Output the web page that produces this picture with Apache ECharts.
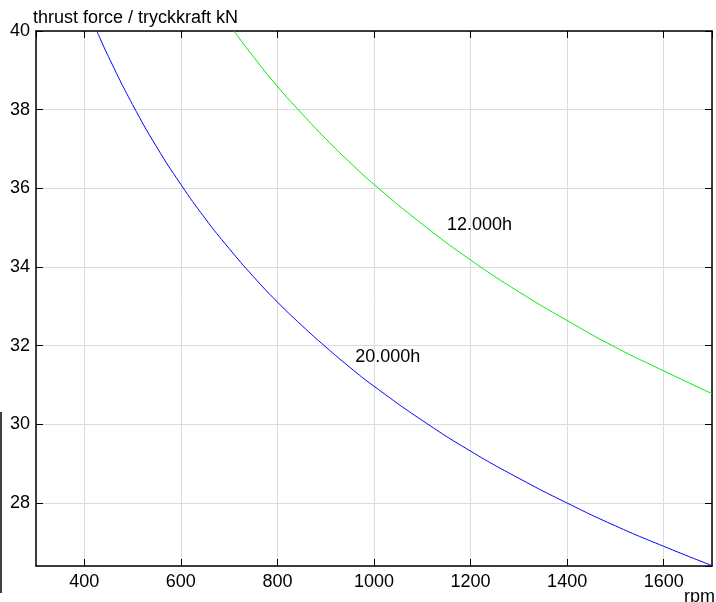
<!DOCTYPE html>
<html>
<head>
<meta charset="utf-8">
<script src="https://cdn.jsdelivr.net/npm/echarts@6/dist/echarts.min.js"></script>
<style>
  html, body { margin: 0; padding: 0; background: #fff; }
  #chart { width: 716px; height: 602px; }
</style>
</head>
<body>
<div id="chart"></div>
<script>
// values
var rpm20000h = [426, 450, 500, 550, 600, 650, 700, 750, 800, 850, 900, 950, 1000, 1100, 1200, 1300, 1400, 1500, 1600, 1700];
var force20000h = [40.0, 39.35, 38.13, 37.05, 36.10, 35.24, 34.47, 33.76, 33.11, 32.52, 31.97, 31.45, 30.97, 30.10, 29.32, 28.63, 28.00, 27.42, 26.90, 26.41];
var rpm12000h = [710, 750, 800, 850, 900, 950, 1000, 1100, 1200, 1300, 1400, 1500, 1600, 1700];
var force12000h = [40.0, 39.35, 38.59, 37.91, 37.26, 36.66, 36.10, 35.09, 34.18, 33.37, 32.64, 31.96, 31.36, 30.78];
var curveLabels = ['20.000h', '12.000h'];
var labelAt = [[960, 31.7], [1150, 35.06]];

var FONT = 'Liberation Sans, Arial, Helvetica, sans-serif';

function pairs(xs, ys) {
  return xs.map(function (x, i) { return [x, ys[i]]; });
}

function curveLabel(i) {
  return {
    symbol: 'circle',
    symbolSize: 1,
    itemStyle: { color: 'rgba(0,0,0,0)' },
    label: { show: true, position: 'right', distance: 0, color: '#000', fontSize: 18, fontFamily: FONT },
    data: [{ coord: labelAt[i], value: curveLabels[i] }]
  };
}

var axisLine = { show: true, onZero: false, lineStyle: { color: '#000', width: 1.5 } };
var tick = { show: true, inside: true, length: 7, lineStyle: { color: '#000', width: 1 } };
var grid = { show: true, lineStyle: { color: '#dcdcdc', width: 1 } };

var myChart = echarts.init(document.getElementById('chart'));
myChart.setOption({
  animation: false,
  title: {
    text: 'thrust force / tryckkraft kN',
    left: 33,
    top: 9,
    padding: 0,
    textStyle: { fontSize: 18, fontWeight: 'normal', color: '#000', fontFamily: FONT }
  },
  grid: { left: 36, right: 4, top: 31, bottom: 36, containLabel: false, outerBoundsMode: 'none' },
  xAxis: [
    {
      type: 'value', min: 300, max: 1700, splitNumber: 7, position: 'bottom',
      axisLine: axisLine, axisTick: tick, splitLine: grid,
      axisLabel: {
        showMinLabel: false, showMaxLabel: false, margin: 7, fontSize: 18, color: '#000', fontFamily: FONT,
        formatter: function (v) { return String(v); }
      }
    },
    {
      type: 'value', min: 300, max: 1700, splitNumber: 7, position: 'top',
      axisLine: axisLine, axisTick: tick, splitLine: { show: false }, axisLabel: { show: false }
    }
  ],
  yAxis: [
    {
      type: 'value', min: 26.4, max: 40, splitNumber: 7, position: 'left',
      axisLine: axisLine, axisTick: tick, splitLine: grid,
      axisLabel: { showMinLabel: false, margin: 6, fontSize: 18, color: '#000', fontFamily: FONT }
    },
    {
      type: 'value', min: 26.4, max: 40, splitNumber: 7, position: 'right',
      axisLine: axisLine, axisTick: tick, splitLine: { show: false }, axisLabel: { show: false }
    }
  ],
  series: [
    {
      name: '20.000h', type: 'line', smooth: true, showSymbol: false,
      lineStyle: { color: '#0000ff', width: 1 },
      data: pairs(rpm20000h, force20000h),
      markPoint: curveLabel(0)
    },
    {
      name: '12.000h', type: 'line', smooth: true, showSymbol: false,
      lineStyle: { color: '#00ee00', width: 1 },
      data: pairs(rpm12000h, force12000h),
      markPoint: curveLabel(1)
    }
  ],
  graphic: [
    // x axis name, sits below the right end of the axis and runs off the page
    { type: 'text', x: 684, y: 588, style: { text: 'rpm', fill: '#000', font: '18px ' + FONT } },
    { type: 'line', shape: { x1: 1, y1: 412, x2: 1, y2: 593 }, style: { stroke: '#000', lineWidth: 1.5 } }
  ]
});
</script>
</body>
</html>
